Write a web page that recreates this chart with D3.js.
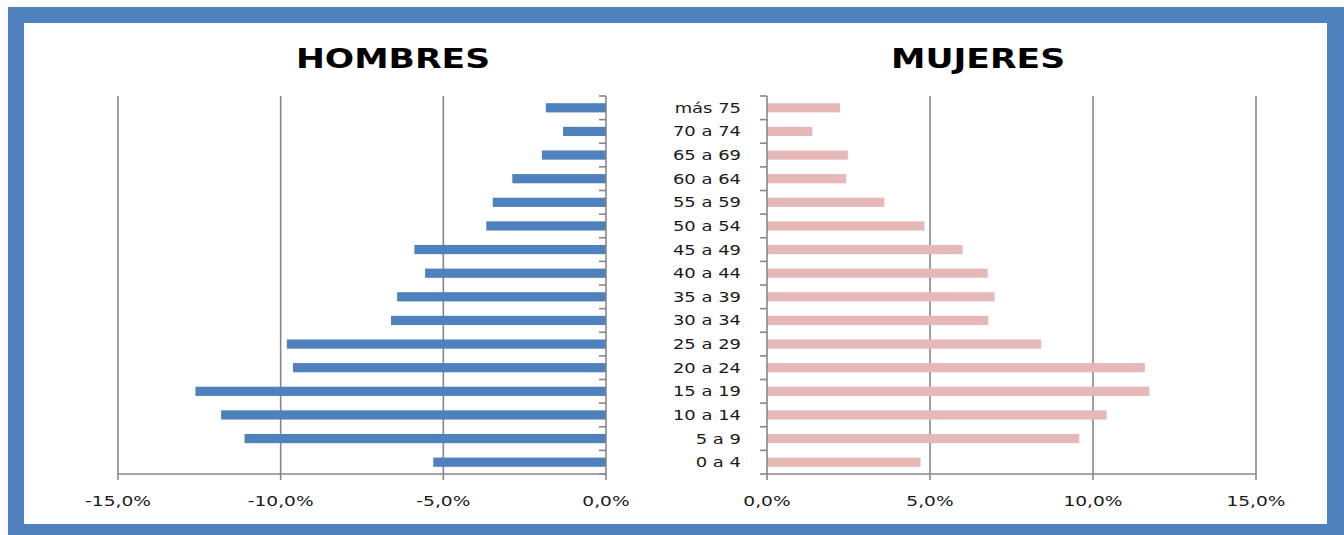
<!DOCTYPE html>
<html>
<head>
<meta charset="utf-8">
<script src="https://cdn.jsdelivr.net/npm/d3@7"></script>
<style>
html,body{margin:0;padding:0;background:#fff;}
svg{display:block;}
</style>
</head>
<body>
<svg id="chart" width="1344" height="535"></svg>
<script>
// ---- data ----
const categories = ["0 a 4","5 a 9","10 a 14","15 a 19","20 a 24","25 a 29","30 a 34","35 a 39","40 a 44","45 a 49","50 a 54","55 a 59","60 a 64","65 a 69","70 a 74","más 75"];
const hombres = [5.31, 11.11, 11.83, 12.62, 9.62, 9.81, 6.61, 6.42, 5.56, 5.89, 3.68, 3.48, 2.88, 1.97, 1.32, 1.85];
const mujeres = [4.71, 9.58, 10.42, 11.73, 11.59, 8.41, 6.79, 6.98, 6.77, 6.00, 4.83, 3.60, 2.43, 2.48, 1.39, 2.24];
const ticksLeft = [-15, -10, -5, 0];
const ticksRight = [0, 5, 10, 15];
const titles = ["HOMBRES", "MUJERES"];

(function () {
const svg = d3.select("#chart");
const locale = d3.formatLocale({decimal: ",", thousands: ".", grouping: [3], currency: ["", "€"], minus: "-"});
const fmt = v => locale.format(".1f")(v) + "%";

const BLUE = "#4f81bd", PINK = "#e6b9b8", GRID = "#878787";
const SX = 1.38; // horizontal stretch of text as in the reference

// frame
svg.append("rect").attr("x", 8).attr("y", 7).attr("width", 1336).attr("height", 528).attr("fill", BLUE);
svg.append("rect").attr("x", 24).attr("y", 23).attr("width", 1303).attr("height", 501).attr("fill", "#fff");

const plotTop = 96, plotBottom = 474;
const y = d3.scaleBand().domain(categories.slice().reverse()).range([plotTop, plotBottom]).padding(0);
const barH = y.bandwidth() * 0.39;

const xL = d3.scaleLinear().domain([-15, 0]).range([118, 606]);
const xR = d3.scaleLinear().domain([0, 15]).range([767, 1256]);

function panel(x, ticks, values, sign, color) {
  const g = svg.append("g");
  g.selectAll("line.grid").data(ticks.filter(t => t !== 0)).enter().append("line")
    .attr("x1", d => x(d)).attr("x2", d => x(d))
    .attr("y1", plotTop).attr("y2", plotBottom + 6)
    .attr("stroke", GRID).attr("stroke-width", 1.6);
  g.selectAll("rect.bar").data(categories).enter().append("rect")
    .attr("x", (d, i) => Math.min(x(0), x(sign * values[i])))
    .attr("y", d => y(d) + (y.bandwidth() - barH) / 2)
    .attr("width", (d, i) => Math.abs(x(sign * values[i]) - x(0)))
    .attr("height", barH)
    .attr("fill", color);
  g.append("line").attr("x1", x(ticks[0])).attr("x2", x(ticks[ticks.length - 1]))
    .attr("y1", plotBottom).attr("y2", plotBottom).attr("stroke", GRID).attr("stroke-width", 1.6);
  g.append("line").attr("x1", x(0)).attr("x2", x(0))
    .attr("y1", plotTop).attr("y2", plotBottom + 6).attr("stroke", GRID).attr("stroke-width", 1.6);
  const bounds = categories.map(c => y(c)).concat([plotBottom]);
  g.selectAll("line.ytick").data(bounds).enter().append("line")
    .attr("x1", x(0) - 7).attr("x2", x(0))
    .attr("y1", d => d).attr("y2", d => d)
    .attr("stroke", GRID).attr("stroke-width", 1.6);
  g.selectAll("text.tick").data(ticks).enter().append("text")
    .attr("transform", d => `translate(${x(d)},505.5) scale(${SX},1)`)
    .attr("text-anchor", "middle")
    .attr("font-family", "DejaVu Sans, Verdana, sans-serif")
    .attr("font-size", 13.5)
    .attr("fill", "#1a1a1a")
    .text(d => fmt(d));
}

panel(xL, ticksLeft, hombres, -1, BLUE);
panel(xR, ticksRight, mujeres, 1, PINK);

svg.selectAll("text.cat").data(categories).enter().append("text")
  .attr("transform", d => `translate(741,${y(d) + y.bandwidth() / 2 + 5}) scale(1.33,1)`)
  .attr("text-anchor", "end")
  .attr("font-family", "DejaVu Sans, Verdana, sans-serif")
  .attr("font-size", 13.5)
  .attr("fill", "#1a1a1a")
  .text(d => d);

const titleX = [393, 978];
svg.selectAll("text.title").data(titles).enter().append("text")
  .attr("transform", (d, i) => `translate(${titleX[i]},68) scale(1.33,1)`)
  .attr("text-anchor", "middle")
  .attr("font-family", "DejaVu Sans, sans-serif")
  .attr("font-weight", "bold")
  .attr("font-size", 26)
  .attr("fill", "#000")
  .text(d => d);
})();
</script>
</body>
</html>
